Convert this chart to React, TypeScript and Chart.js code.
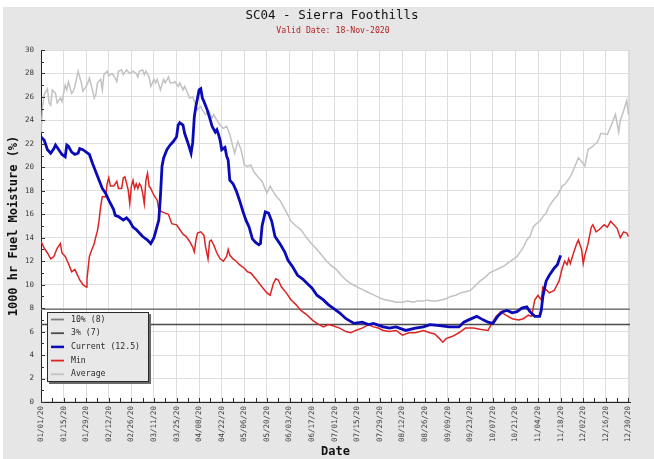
import { useEffect, useRef } from "react";
import { Chart, registerables } from "chart.js";

Chart.register(...registerables);

const TITLE = "SC04 - Sierra Foothills";
const SUBTITLE = "Valid Date: 18-Nov-2020";
const Y_TITLE = "1000 hr Fuel Moisture (%)";
const X_TITLE = "Date";

const tickDays = [0, 14, 28, 42, 56, 70, 84, 98, 112, 126, 140, 154, 168, 182, 196, 210, 224, 238, 252, 266, 280, 294, 308, 322, 336, 350, 364];
const tickLabels = [
  "01/01/20", "01/15/20", "01/29/20", "02/12/20", "02/26/20", "03/11/20", "03/25/20",
  "04/08/20", "04/22/20", "05/06/20", "05/20/20", "06/03/20", "06/17/20", "07/01/20",
  "07/15/20", "07/29/20", "08/12/20", "08/26/20", "09/09/20", "09/23/20", "10/07/20",
  "10/21/20", "11/04/20", "11/18/20", "12/02/20", "12/16/20", "12/30/20",
];

const legendLabels = ["10% (8)", "3% (7)", "Current (12.5)", "Min", "Average"];
const tenPctValue = 7.9;
const threePctValue = 6.6;

const avgDays = [0, 1, 2, 4, 5, 6, 7, 9, 10, 12, 13, 15, 16, 17, 19, 20, 21, 23, 25, 26, 28, 29, 30, 32, 33, 34, 35, 37, 38, 39, 41, 42, 44, 46, 47, 48, 50, 51, 53, 55, 57, 59, 60, 61, 63, 64, 65, 67, 68, 70, 71, 72, 74, 76, 77, 79, 80, 82, 83, 85, 86, 88, 89, 91, 92, 94, 96, 97, 99, 100, 102, 104, 106, 107, 109, 111, 113, 115, 117, 120, 122, 124, 126, 128, 130, 132, 135, 137, 140, 142, 144, 146, 148, 152, 155, 158, 161, 164, 167, 171, 174, 177, 180, 183, 186, 189, 192, 196, 199, 202, 205, 208, 211, 214, 217, 220, 224, 227, 231, 233, 237, 239, 242, 245, 248, 251, 254, 257, 260, 263, 266, 269, 272, 275, 278, 281, 284, 287, 291, 295, 297, 299, 301, 303, 305, 307, 309, 311, 313, 315, 318, 320, 323, 325, 328, 330, 333, 335, 337, 339, 342, 345, 347, 351, 354, 356, 358, 359, 361, 363, 364];
const avgVals = [22.9, 25.2, 26.2, 26.7, 25.5, 25.3, 26.6, 26.3, 25.5, 25.9, 25.6, 27.0, 26.6, 27.3, 26.3, 26.5, 26.9, 28.2, 27.2, 26.5, 26.9, 27.2, 27.6, 26.5, 25.9, 26.2, 27.2, 27.5, 26.6, 27.9, 28.2, 27.8, 28.0, 27.6, 27.3, 28.2, 28.3, 27.9, 28.3, 28.0, 28.2, 28.0, 27.7, 28.2, 28.3, 27.9, 28.2, 27.7, 26.9, 27.5, 27.2, 27.5, 26.6, 27.5, 27.2, 27.7, 27.2, 27.2, 27.3, 26.9, 27.2, 26.6, 26.9, 26.3, 25.9, 26.0, 25.3, 24.9, 25.2, 24.9, 24.5, 24.8, 24.2, 24.5, 24.0, 23.6, 23.3, 23.5, 22.8, 21.2, 22.2, 21.5, 20.2, 20.1, 20.2, 19.6, 19.1, 18.8, 17.8, 18.4, 17.9, 17.5, 17.2, 16.2, 15.4, 15.0, 14.7, 14.1, 13.6, 13.0, 12.5, 12.0, 11.6, 11.3, 10.8, 10.4, 10.1, 9.8, 9.6, 9.4, 9.2, 9.0, 8.8, 8.7, 8.6, 8.5, 8.5, 8.6, 8.5, 8.6, 8.6, 8.7, 8.6, 8.6, 8.7, 8.8, 9.0, 9.1, 9.3, 9.4, 9.5, 9.9, 10.3, 10.6, 11.0, 11.2, 11.4, 11.6, 12.0, 12.4, 12.8, 13.2, 13.8, 14.1, 14.9, 15.2, 15.4, 15.8, 16.1, 16.7, 17.3, 17.6, 18.4, 18.6, 19.2, 19.8, 20.8, 20.5, 20.1, 21.5, 21.8, 22.2, 22.9, 22.8, 23.8, 24.5, 23.0, 24.0, 24.8, 25.7, 24.5];

const curDays = [0, 2, 4, 6, 8, 9, 11, 13, 15, 16, 17, 19, 21, 23, 24, 26, 28, 30, 32, 34, 36, 38, 40, 42, 45, 46, 48, 51, 53, 55, 57, 59, 61, 63, 66, 68, 70, 71, 73, 74, 75, 76, 78, 80, 82, 84, 85, 86, 88, 89, 91, 93, 94, 95, 96, 97, 98, 99, 100, 101, 103, 105, 106, 108, 109, 110, 111, 112, 114, 115, 116, 117, 119, 121, 123, 125, 127, 129, 131, 133, 135, 136, 137, 139, 141, 143, 145, 148, 151, 153, 156, 159, 162, 165, 168, 171, 175, 178, 181, 185, 189, 194, 199, 203, 206, 212, 216, 220, 226, 232, 237, 241, 247, 253, 259, 262, 265, 270, 274, 277, 280, 283, 286, 289, 292, 295, 298, 301, 303, 306, 309, 310, 311, 313, 315, 318, 320, 322];
const curVals = [22.6, 22.3, 21.5, 21.2, 21.6, 21.9, 21.5, 21.1, 20.9, 21.9, 21.8, 21.3, 21.1, 21.2, 21.6, 21.5, 21.3, 21.1, 20.3, 19.6, 18.9, 18.2, 17.8, 17.2, 16.4, 15.9, 15.8, 15.5, 15.7, 15.4, 14.9, 14.7, 14.4, 14.1, 13.8, 13.5, 14.0, 14.5, 15.5, 17.5, 20.1, 20.8, 21.5, 21.9, 22.2, 22.6, 23.6, 23.8, 23.6, 22.9, 22.1, 21.2, 22.1, 24.3, 25.2, 25.9, 26.6, 26.7, 25.9, 25.6, 24.9, 24.0, 23.5, 23.0, 23.2, 22.8, 22.3, 21.5, 21.7, 21.0, 20.6, 18.9, 18.6, 18.0, 17.2, 16.3, 15.5, 14.9, 13.9, 13.6, 13.4, 13.5, 15.0, 16.2, 16.1, 15.4, 14.1, 13.5, 12.8, 12.1, 11.5, 10.8, 10.5, 10.1, 9.7, 9.1, 8.7, 8.3, 8.0, 7.6, 7.1, 6.7, 6.8, 6.6, 6.7, 6.4, 6.3, 6.4, 6.1, 6.3, 6.4, 6.6, 6.5, 6.4, 6.4, 6.8, 7.0, 7.3, 7.0, 6.8, 6.7, 7.3, 7.7, 7.8, 7.6, 7.7, 8.0, 8.1, 7.7, 7.3, 7.3, 7.8, 9.0, 10.3, 10.8, 11.4, 11.7, 12.5];

const minDays = [0, 2, 4, 6, 8, 10, 12, 13, 15, 17, 19, 21, 22, 24, 26, 28, 28.5, 30, 31, 33, 34, 35, 36, 37, 38, 40, 41, 42, 43, 45, 46, 47, 48, 50, 51, 52, 54, 55, 56, 57, 58, 59, 60, 61, 62, 63, 64, 65, 66, 67, 68, 70, 72, 73, 75, 77, 79, 81, 84, 86, 88, 90, 92, 94, 95, 96, 97, 99, 101, 102, 103.5, 104.5, 105.5, 107, 109, 111, 113, 115, 116, 117, 119, 121, 123, 126, 128, 130, 133, 137, 140, 142, 144, 145.5, 147, 149, 152, 155, 158, 161, 165, 168, 171, 175, 178, 181, 185, 189, 192, 195, 199, 203, 206, 209, 212, 216, 220, 224, 228, 232, 237, 241, 244, 247, 249, 251, 255, 259, 263, 268, 272, 277, 279, 282, 285, 288, 292, 296, 299, 302, 304, 306, 308, 310, 311, 312, 315, 318, 321, 323, 324.5, 326, 327, 328, 330, 332, 333, 335, 336, 337, 339, 341, 342, 344, 346, 349, 351, 353, 355, 357, 359, 361, 363, 364];
const minVals = [13.7, 13.1, 12.7, 12.2, 12.4, 13.1, 13.5, 12.7, 12.4, 11.8, 11.1, 11.3, 11.0, 10.4, 10.0, 9.8, 10.5, 12.4, 12.8, 13.5, 14.1, 14.6, 15.5, 16.7, 17.5, 17.5, 18.6, 19.1, 18.4, 18.4, 18.6, 18.8, 18.2, 18.2, 19.1, 19.2, 18.1, 16.9, 18.4, 18.9, 18.2, 18.6, 18.2, 18.6, 18.4, 17.8, 16.9, 18.9, 19.5, 18.4, 18.2, 17.6, 17.2, 16.4, 16.2, 16.1, 16.0, 15.2, 15.1, 14.7, 14.3, 14.1, 13.7, 13.2, 12.8, 13.8, 14.4, 14.5, 14.2, 13.2, 12.2, 13.7, 13.8, 13.4, 12.7, 12.2, 12.0, 12.4, 13.0, 12.5, 12.2, 12.0, 11.7, 11.4, 11.1, 11.0, 10.5, 9.8, 9.3, 9.1, 10.1, 10.5, 10.4, 9.8, 9.3, 8.7, 8.3, 7.8, 7.4, 7.0, 6.7, 6.4, 6.6, 6.5, 6.3, 6.0, 5.9, 6.1, 6.3, 6.6, 6.4, 6.3, 6.1, 6.0, 6.1, 5.7, 5.9, 5.9, 6.1, 5.9, 5.8, 5.4, 5.1, 5.4, 5.6, 5.9, 6.3, 6.3, 6.2, 6.1, 6.6, 7.3, 7.7, 7.4, 7.1, 7.0, 7.1, 7.4, 7.3, 8.7, 9.1, 8.7, 9.8, 9.7, 9.3, 9.5, 10.3, 11.4, 12.0, 11.7, 12.2, 11.8, 12.7, 13.5, 13.8, 13.0, 11.8, 12.5, 13.5, 14.9, 15.1, 14.5, 14.7, 15.1, 14.9, 15.4, 15.1, 14.8, 14.0, 14.5, 14.4, 14.1];

const FONT = "'DejaVu Sans Mono', 'Liberation Mono', monospace";

const pts = (days: number[], vals: number[]) => days.map((d, i) => ({ x: d, y: vals[i] }));

const bgPlugin = {
  id: "bgPanel",
  beforeDraw(chart: any) {
    const { ctx, chartArea } = chart;
    const { left, top, right, bottom } = chartArea;
    ctx.save();
    ctx.fillStyle = "#ffffff";
    ctx.fillRect(0, 0, chart.width, chart.height);
    ctx.fillStyle = "#e6e6e6";
    ctx.fillRect(3, 7, chart.width - 3, chart.height - 7);
    ctx.fillStyle = "#ffffff";
    ctx.fillRect(left, top, right - left, bottom - top);
    ctx.strokeStyle = "#d8d8d8";
    ctx.lineWidth = 1;
    ctx.strokeRect(left + 0.5, top + 0.5, right - left - 1, bottom - top - 1);
    ctx.restore();
  },
};

const decorPlugin = {
  id: "decor",
  afterDraw(chart: any) {
    const { ctx, chartArea } = chart;
    const xs = chart.scales.x;
    const ys = chart.scales.y;
    ctx.save();
    // inner tick marks
    ctx.strokeStyle = "#333333";
    ctx.lineWidth = 1;
    ctx.beginPath();
    for (let d = 0; d <= 364; d += 7) {
      const px = Math.round(xs.getPixelForValue(d)) + 0.5;
      ctx.moveTo(px, chartArea.bottom);
      ctx.lineTo(px, chartArea.bottom - 4);
    }
    for (let v = 0; v <= 30; v += 1) {
      const py = Math.round(ys.getPixelForValue(v)) + 0.5;
      ctx.moveTo(chartArea.left, py);
      ctx.lineTo(chartArea.left + (v % 2 === 0 ? 4 : 3), py);
    }
    ctx.stroke();

    // legend box
    const bx = chartArea.left + 6;
    const by = chartArea.bottom - 90;
    const bw = 101;
    const bh = 69;
    ctx.fillStyle = "#6a6a6a";
    ctx.fillRect(bx + 2, by + 2, bw + 1, bh + 1);
    ctx.fillStyle = "#e8e8e8";
    ctx.fillRect(bx, by, bw, bh);
    ctx.strokeStyle = "#2a2a2a";
    ctx.strokeRect(bx + 0.5, by + 0.5, bw, bh);
    ctx.font = `8.2px ${FONT}`;
    ctx.textBaseline = "middle";
    ctx.textAlign = "left";
    chart.data.datasets.forEach((ds: any, i: number) => {
      const ry = by + 7.5 + i * 13.7;
      ctx.strokeStyle = ds.borderColor;
      ctx.lineWidth = i === 2 ? 2.5 : 1.8;
      ctx.beginPath();
      ctx.moveTo(bx + 4, ry);
      ctx.lineTo(bx + 17, ry);
      ctx.stroke();
      ctx.fillStyle = "#2a2a2a";
      ctx.fillText(ds.label, bx + 24, ry);
    });

    // titles
    ctx.textAlign = "center";
    ctx.fillStyle = "#111111";
    ctx.font = `12.5px ${FONT}`;
    ctx.fillText(TITLE, 332, 16);
    ctx.fillStyle = "#b22222";
    ctx.font = `8.2px ${FONT}`;
    ctx.fillText(SUBTITLE, 333, 31);
    ctx.restore();
  },
};

export default function App() {
  const ref = useRef<HTMLCanvasElement | null>(null);

  useEffect(() => {
    if (!ref.current) return;
    const tickFont = { family: FONT, size: 7.5 };
    const chart = new Chart(ref.current, {
      type: "line",
      data: {
        datasets: [
          {
            label: legendLabels[0],
            data: [{ x: 0, y: tenPctValue }, { x: 365, y: tenPctValue }],
            borderColor: "#7c7c7c",
            borderWidth: 1.6,
            order: 5,
          },
          {
            label: legendLabels[1],
            data: [{ x: 0, y: threePctValue }, { x: 365, y: threePctValue }],
            borderColor: "#4a4a4a",
            borderWidth: 1.6,
            order: 4,
          },
          {
            label: legendLabels[2],
            data: pts(curDays, curVals),
            borderColor: "#0a0ab8",
            borderWidth: 2.8,
            order: 1,
          },
          {
            label: legendLabels[3],
            data: pts(minDays, minVals),
            borderColor: "#dd2424",
            borderWidth: 1.5,
            order: 2,
          },
          {
            label: legendLabels[4],
            data: pts(avgDays, avgVals),
            borderColor: "#c2c2c2",
            borderWidth: 1.5,
            order: 3,
          },
        ],
      },
      options: {
        responsive: false,
        animation: false,
        parsing: false,
        normalized: true,
        elements: { point: { radius: 0 }, line: { tension: 0 } },
        layout: { padding: { top: 50, right: 24, bottom: 0, left: 0 } },
        plugins: { legend: { display: false }, tooltip: { enabled: false }, title: { display: false } },
        scales: {
          x: {
            type: "linear",
            min: 0,
            max: 365,
            afterBuildTicks: (s: any) => {
              s.ticks = tickDays.map((v) => ({ value: v }));
            },
            ticks: {
              autoSkip: false,
              minRotation: 90,
              maxRotation: 90,
              padding: 4,
              font: tickFont,
              color: "#3a3a3a",
              callback: (_v: any, i: number) => tickLabels[i],
            },
            grid: { color: "#dedede", drawTicks: false, lineWidth: 1 },
            border: { display: true, color: "#222222", width: 1 },
            title: {
              display: true,
              text: X_TITLE,
              color: "#111111",
              font: { family: FONT, size: 12, weight: "bold" },
              padding: { top: 0, bottom: 0 },
            },
            afterFit: (s: any) => {
              s.height = 57;
              s.paddingLeft = 0;
              s.paddingRight = 0;
            },
          },
          y: {
            type: "linear",
            min: 0,
            max: 30,
            ticks: { stepSize: 2, padding: 7, font: tickFont, color: "#3a3a3a" },
            grid: { color: "#dedede", drawTicks: false, lineWidth: 1 },
            border: { display: true, color: "#222222", width: 1 },
            title: {
              display: true,
              text: Y_TITLE,
              color: "#111111",
              font: { family: FONT, size: 12, weight: "bold" },
              padding: { top: 7, bottom: 0 },
            },
            afterFit: (s: any) => {
              s.width = 41;
              s.paddingTop = 0;
              s.paddingBottom = 0;
            },
          },
        },
      } as any,
      plugins: [bgPlugin, decorPlugin],
    });
    return () => chart.destroy();
  }, []);

  return (
    <div style={{ position: "absolute", left: 0, top: 0, width: 654, height: 459 }}>
      <canvas ref={ref} width={654} height={459} style={{ display: "block", width: 654, height: 459 }} />
    </div>
  );
}
